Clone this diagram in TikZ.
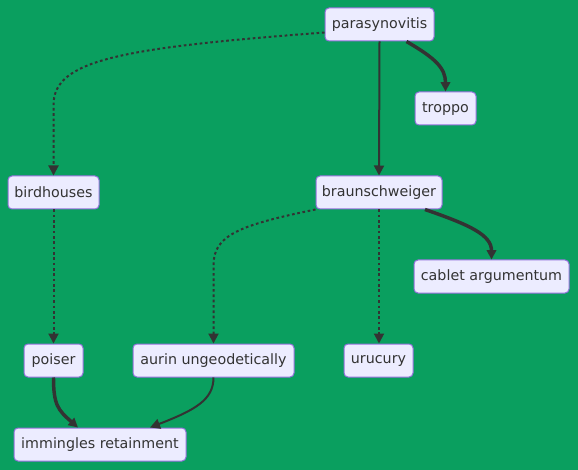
\documentclass[tikz,border=0pt]{standalone}
\usepackage{fontspec}
\setmainfont{DejaVu Sans}
\usetikzlibrary{arrows.meta,calc}
\definecolor{bg}{HTML}{0A9F5F}
\definecolor{nodefill}{HTML}{ECECFF}
\definecolor{nodeborder}{HTML}{9370DB}
\definecolor{edge}{HTML}{333333}
\tikzset{
  box/.style={draw=nodeborder, fill=nodefill, line width=0.75pt, rounded corners=3pt,
    minimum height=24.75pt, inner sep=0pt, text=edge, font=\fontsize{10.7pt}{12pt}\selectfont},
  link/.style={draw=edge, line width=1.5pt, -{Triangle[length=7.5pt,width=7.5pt]}},
  thicklink/.style={draw=edge, line width=2.6pt, -{Triangle[length=7pt,width=7pt]}},
  dotlink/.style={draw=edge, line width=1.5pt, dash pattern=on 2pt off 2pt, -{Triangle[length=7.5pt,width=7.5pt]}},
}
\begin{document}
\begin{tikzpicture}[x=0.75pt,y=-0.75pt]
\fill[bg] (0,0) rectangle (578,470);
\useasboundingbox (0,0) rectangle (578,470);
\node[box, minimum width=81.75pt] (para) at (379.5,24.5) {parasynovitis};
\node[box, minimum width=45.75pt] (troppo) at (445.5,108.5) {troppo};
\node[box, minimum width=68.25pt] (bird) at (53.5,192.5) {birdhouses};
\node[box, minimum width=94.5pt] (braun) at (379,192.5) {braunschweiger};
\node[box, minimum width=116.25pt] (cablet) at (491.5,276.5) {cablet argumentum};
\node[box, minimum width=44.25pt] (poiser) at (53.5,360.5) {poiser};
\node[box, minimum width=120.75pt] (aurin) at (213.5,360.5) {aurin ungeodetically};
\node[box, minimum width=51.75pt] (urucury) at (378.5,360.5) {urucury};
\node[box, minimum width=129pt] (imm) at (100,444.5) {immingles retainment};

\draw[dotlink] ($(para.west)+(0,8)$) .. controls (120,48) and (53.5,60) .. (53.5,105) -- (bird.north);
\draw[link] (para.south) -- (braun.north);
\draw[thicklink] ($(para.south)+(27,0)$) .. controls (435,58) and (445.5,68) .. (troppo.north);
\draw[dotlink] (bird.south) -- (poiser.north);
\draw[dotlink] ($(braun.south west)+(0,0)$) .. controls (240,225) and (213.5,235) .. (213.5,265) -- (aurin.north);
\draw[dotlink] (braun.south) -- (urucury.north -| braun.south);
\draw[thicklink] ($(braun.south)+(46,0)$) .. controls (470,225) and (491.5,235) .. (cablet.north);
\draw[thicklink] (poiser.south) .. controls (53.5,405) and (58,410) .. ($(imm.north)+(-22,0)$);
\draw[link] (aurin.south) .. controls (213.5,400) and (195,410) .. ($(imm.north)+(50,0)$);
\end{tikzpicture}
\end{document}
